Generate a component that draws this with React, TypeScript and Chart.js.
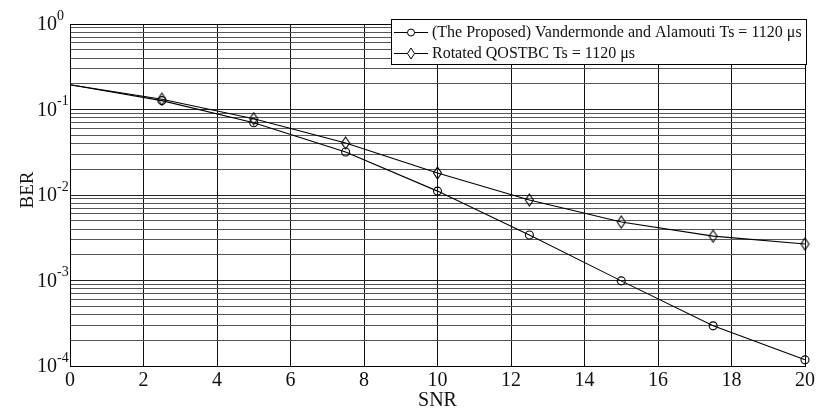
import React, { useEffect, useRef } from "react";
import { Chart, registerables } from "chart.js";

Chart.register(...registerables);

const snr = [0, 2.5, 5, 7.5, 10, 12.5, 15, 17.5, 20];
const proposedBER = [0.195, 0.127, 0.07, 0.0318, 0.0111, 0.0034, 0.00099, 0.000295, 0.000118];
const rotatedBER = [0.195, 0.132, 0.078, 0.0406, 0.0181, 0.00874, 0.00483, 0.0033, 0.00267];
const seriesNames = [
  "(The Proposed) Vandermonde and Alamouti Ts = 1120 \u03bcs",
  "Rotated QOSTBC Ts = 1120 \u03bcs",
];
const xTickValues = [0, 2, 4, 6, 8, 10, 12, 14, 16, 18, 20];
const yDecadeExps = [0, -1, -2, -3, -4];
const xTitle = "SNR";
const yTitle = "BER";

const FONT = "'Liberation Serif', 'Times New Roman', serif";

function makeDiamond(): HTMLCanvasElement {
  const c = document.createElement("canvas");
  c.width = 11;
  c.height = 14;
  const g = c.getContext("2d")!;
  g.strokeStyle = "#000";
  g.lineWidth = 1.1;
  g.beginPath();
  g.moveTo(5.5, 1);
  g.lineTo(9.5, 7);
  g.lineTo(5.5, 13);
  g.lineTo(1.5, 7);
  g.closePath();
  g.stroke();
  return c;
}

function buildYTicks(): { value: number; major: boolean }[] {
  const t: { value: number; major: boolean }[] = [];
  for (let e = -4; e < 0; e++) {
    for (let m = 1; m <= 9; m++) {
      t.push({ value: m * Math.pow(10, e), major: m === 1 });
    }
  }
  t.push({ value: 1, major: true });
  return t;
}

export default function App() {
  const ref = useRef<HTMLCanvasElement>(null);

  useEffect(() => {
    const canvas = ref.current!;
    const diamond = makeDiamond();
    const yTicks = buildYTicks();

    const drawPlugin = {
      id: "customDraw",
      afterDraw(chart: any) {
        const { ctx, chartArea: a, scales } = chart;
        const xs = scales.x;
        const ys = scales.y;
        ctx.save();
        // box
        ctx.strokeStyle = "#000";
        ctx.lineWidth = 1;
        ctx.strokeRect(Math.round(a.left) + 0.5, Math.round(a.top) + 0.5, Math.round(a.right - a.left), Math.round(a.bottom - a.top));

        ctx.fillStyle = "#111";
        // y tick labels
        yDecadeExps.forEach((e) => {
          const py = ys.getPixelForValue(Math.pow(10, e));
          ctx.font = `20px ${FONT}`;
          ctx.textAlign = "right";
          ctx.textBaseline = "alphabetic";
          ctx.fillText("10", 57, py + 6);
          ctx.font = `14px ${FONT}`;
          ctx.textAlign = "left";
          ctx.fillText(String(e), 57, py - 4.5);
        });
        // x tick labels
        ctx.font = `20px ${FONT}`;
        ctx.textAlign = "center";
        ctx.textBaseline = "alphabetic";
        xTickValues.forEach((v) => {
          const px = xs.getPixelForValue(v);
          ctx.fillText(String(v), px, 386);
        });
        // axis titles
        ctx.fillText(xTitle, (a.left + a.right) / 2, 406);
        ctx.save();
        ctx.translate(33, 190);
        ctx.rotate(-Math.PI / 2);
        ctx.font = `19px ${FONT}`;
        ctx.fillText(yTitle, 0, 0);
        ctx.restore();

        // legend
        const lx = 391, ly = 19, lw = 415, lh = 45;
        ctx.fillStyle = "#fff";
        ctx.fillRect(lx, ly, lw, lh);
        ctx.strokeStyle = "#000";
        ctx.strokeRect(lx + 0.5, ly + 0.5, lw, lh);
        const rows = [32, 53];
        rows.forEach((ry, i) => {
          ctx.strokeStyle = "#000";
          ctx.lineWidth = 1;
          ctx.beginPath();
          ctx.moveTo(394, ry + 0.5);
          ctx.lineTo(428, ry + 0.5);
          ctx.stroke();
          if (i === 0) {
            ctx.beginPath();
            ctx.arc(411, ry + 0.5, 3.5, 0, Math.PI * 2);
            ctx.fillStyle = "#fff";
            ctx.fill();
            ctx.stroke();
          } else {
            ctx.fillStyle = "#fff";
            ctx.beginPath();
            ctx.moveTo(411, ry - 5);
            ctx.lineTo(414.5, ry + 0.5);
            ctx.lineTo(411, ry + 6);
            ctx.lineTo(407.5, ry + 0.5);
            ctx.closePath();
            ctx.fill();
            ctx.stroke();
          }
          ctx.fillStyle = "#111";
          ctx.font = `16px ${FONT}`;
          ctx.textAlign = "left";
          ctx.textBaseline = "middle";
          ctx.fillText(seriesNames[i], 432, ry + 1);
        });
        ctx.restore();
      },
    };

    const chart = new Chart(canvas, {
      type: "line",
      data: {
        datasets: [
          {
            label: seriesNames[0],
            data: snr.map((x, i) => ({ x, y: proposedBER[i] })),
            borderColor: "#000",
            borderWidth: 1.1,
            pointStyle: "circle",
            pointRadius: snr.map((_, i) => (i === 0 ? 0 : 4)),
            pointBorderColor: "#000",
            pointBackgroundColor: "rgba(0,0,0,0)",
            pointBorderWidth: 1.1,
            fill: false,
            tension: 0,
            clip: false as any,
          },
          {
            label: seriesNames[1],
            data: snr.map((x, i) => ({ x, y: rotatedBER[i] })),
            borderColor: "#000",
            borderWidth: 1.1,
            pointStyle: diamond as any,
            pointRadius: snr.map((_, i) => (i === 0 ? 0 : 5)),
            pointBorderColor: "#000",
            pointBackgroundColor: "rgba(0,0,0,0)",
            fill: false,
            tension: 0,
            clip: false as any,
          },
        ],
      },
      options: {
        animation: false,
        responsive: false,
        devicePixelRatio: 1,
        events: [],
        layout: { padding: { top: 24, right: 15, left: 0, bottom: 0 } },
        plugins: {
          legend: { display: false },
          tooltip: { enabled: false },
          title: { display: false },
        },
        scales: {
          x: {
            type: "linear",
            min: 0,
            max: 20,
            ticks: { display: false, stepSize: 2 },
            afterBuildTicks: (scale: any) => {
              scale.ticks = xTickValues.map((v) => ({ value: v }));
            },
            afterFit: (scale: any) => {
              scale.height = 47;
            },
            grid: { color: "#111", lineWidth: 1, drawTicks: false },
            border: { display: false },
          },
          y: {
            type: "logarithmic",
            min: 1e-4,
            max: 1,
            ticks: { display: false, autoSkip: false },
            afterBuildTicks: (scale: any) => {
              scale.ticks = yTicks.map((t) => ({ value: t.value, major: t.major }));
            },
            afterFit: (scale: any) => {
              scale.width = 70;
            },
            grid: {
              color: (c: any) => {
                const v = c.tick ? c.tick.value : 0;
                const e = Math.log10(v);
                return Math.abs(e - Math.round(e)) < 1e-6 ? "#222" : "#555";
              },
              lineWidth: 1,
              drawTicks: false,
            },
            border: { display: false },
          },
        },
      },
      plugins: [drawPlugin],
    });

    return () => chart.destroy();
  }, []);

  return (
    <div style={{ position: "fixed", left: 0, top: 0, width: 820, height: 413, background: "#fff" }}>
      <canvas ref={ref} width={820} height={413} style={{ display: "block" }} />
    </div>
  );
}
